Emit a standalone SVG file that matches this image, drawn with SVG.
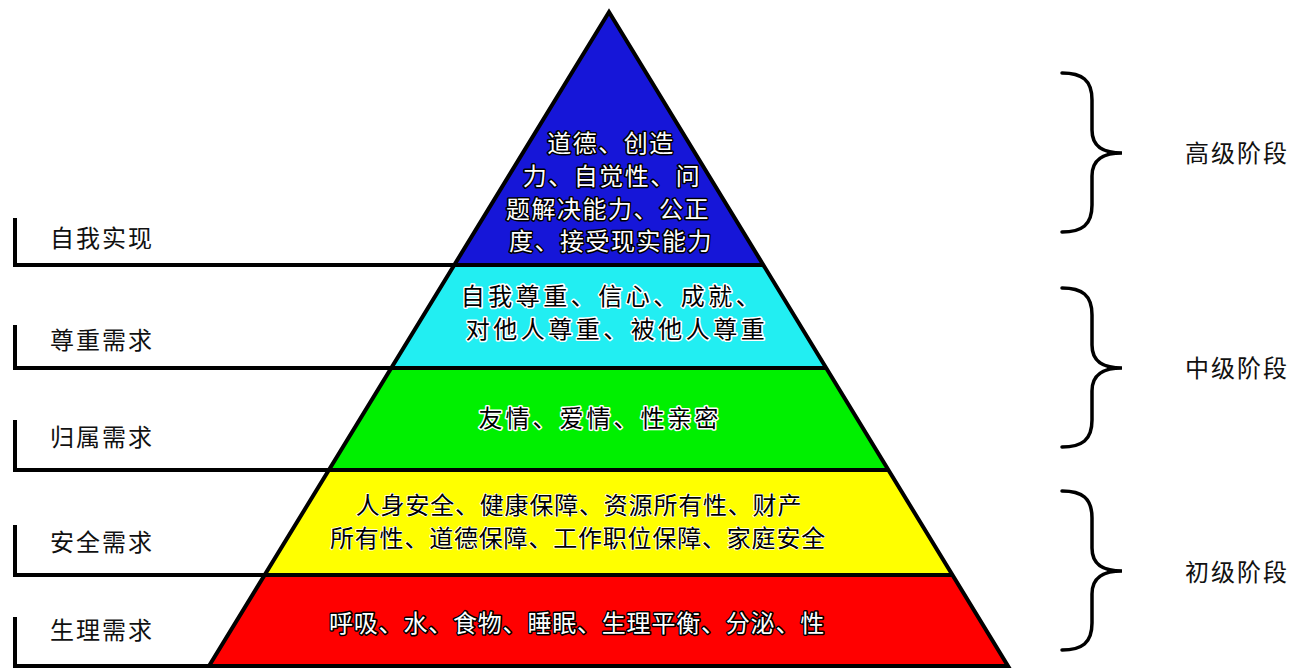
<svg xmlns="http://www.w3.org/2000/svg" width="1296" height="671" viewBox="0 0 1296 671">
<style>
.lbl{font-family:"Noto Sans CJK SC","Noto Sans",sans-serif;font-size:24px;letter-spacing:2px;fill:#111}
.t{font-family:"Noto Sans CJK SC","Noto Sans",sans-serif;font-size:24px;text-anchor:middle;paint-order:stroke;stroke-linejoin:round}
.wo{fill:#fff;stroke:#000;stroke-width:3px}
.bh{fill:#000;stroke:#fff;stroke-width:3px}
.bk{fill:#000;stroke:#fff;stroke-width:1.5px}
.ln{fill:none;stroke:#000;stroke-width:4;stroke-linejoin:miter}
.br{fill:none;stroke:#000;stroke-width:3.5;stroke-linecap:round}
</style>
<defs>
<path id="brace" d="M0,0 C20,0 30,7 30,27 L30,57 C30,75 43,80 60,80 C43,80 30,85 30,103 L30,132 C30,152 20,159 0,159"/>
</defs>
<rect width="1296" height="671" fill="#fff"/>

<g id="layer-top">
<polygon points="609,12 763.4,265 454.3,265" fill="#1616d8"/>
<text class="t wo" x="611" y="152" letter-spacing="1.5">道德、创造</text>
<text class="t wo" x="612" y="185" letter-spacing="1.5">力、自觉性、问</text>
<text class="t wo" x="608" y="218" letter-spacing="1.5">题解决能力、公正</text>
<text class="t wo" x="611" y="250" letter-spacing="1.5">度、接受现实能力</text>
</g>
<g id="layer-esteem">
<polygon points="454.3,265 763.4,265 826.2,368 391.3,368" fill="#22eef2"/>
<text class="t bh" x="612" y="305" font-size="23" letter-spacing="3.5">自我尊重、信心、成就、</text>
<text class="t bh" x="617" y="338" font-size="23" letter-spacing="3.5">对他人尊重、被他人尊重</text>
</g>
<g id="layer-belong">
<polygon points="391.3,368 826.2,368 888.4,470 328.9,470" fill="#00f000"/>
<text class="t bh" x="600" y="427" letter-spacing="3">友情、爱情、性亲密</text>
</g>
<g id="layer-safety">
<polygon points="328.9,470 888.4,470 952.5,575 264.7,575" fill="#ffff00"/>
<text class="t bk" x="579" y="514" letter-spacing="0.8">人身安全、健康保障、资源所有性、财产</text>
<text class="t bk" x="578" y="547" letter-spacing="0.8">所有性、道德保障、工作职位保障、家庭安全</text>
</g>
<g id="layer-physio">
<polygon points="264.7,575 952.5,575 1008,666 209,666" fill="#ff0000"/>
<text class="t wo" x="577" y="632" letter-spacing="0.8">呼吸、水、食物、睡眠、生理平衡、分泌、性</text>
</g>
<g id="pyramid-outline">
<polygon points="609,12 1008,666 209,666" class="ln"/>
</g>

<g id="connectors">
<path class="ln" d="M15,218 V265 H763.4"/>
<path class="ln" d="M15,325 V368 H826.2"/>
<path class="ln" d="M15,420 V470 H888.4"/>
<path class="ln" d="M15,525 V575 H952.5"/>
<path class="ln" d="M15,617 V666 H1008"/>
</g>

<g id="label-self"><text class="lbl" x="50" y="247">自我实现</text></g>
<g id="label-esteem"><text class="lbl" x="50" y="349">尊重需求</text></g>
<g id="label-belong"><text class="lbl" x="50" y="446">归属需求</text></g>
<g id="label-safety"><text class="lbl" x="50" y="551">安全需求</text></g>
<g id="label-physio"><text class="lbl" x="50" y="639">生理需求</text></g>

<g id="stage-high">
<use href="#brace" class="br" transform="translate(1062,73)"/>
<text class="lbl" x="1185" y="162">高级阶段</text>
</g>
<g id="stage-mid">
<use href="#brace" class="br" transform="translate(1062,288)"/>
<text class="lbl" x="1185" y="377">中级阶段</text>
</g>
<g id="stage-low">
<use href="#brace" class="br" transform="translate(1062,491)"/>
<text class="lbl" x="1185" y="581">初级阶段</text>
</g>
</svg>
